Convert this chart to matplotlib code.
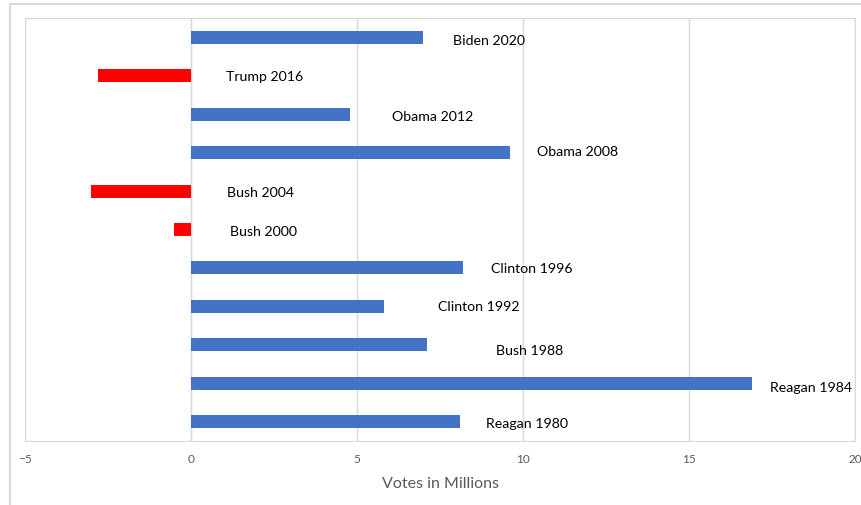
import matplotlib.pyplot as plt
from matplotlib.patches import Rectangle

# data: popular vote margin of the winner, millions
labels = ["Reagan 1980", "Reagan 1984", "Bush 1988", "Clinton 1992", "Clinton 1996",
          "Bush 2000", "Bush 2004", "Obama 2008", "Obama 2012", "Trump 2016", "Biden 2020"]
margins = [8.1, 16.9, 7.1, 5.8, 8.2, -0.5, -3.0, 9.6, 4.8, -2.8, 7.0]

# label placement (offsets in points from the bar end / zero line)
label_dx = [19, 13, 50, 39, 20, 28, 26, 20, 30, 25, 21]
label_dy = [-1, -3, -4, 0, 0, -1, -1, 1, -1, 0, -2]

fig = plt.figure(figsize=(8.61, 5.06), dpi=100)
ax = fig.add_axes([25/861, 1-442/506, 830/861, 423/506])

# outer chart border (runs off the right and bottom edges)
fig.patches.append(Rectangle((10/861, -0.1), 1, 1.1-5/506, transform=fig.transFigure,
                             fill=False, edgecolor="#d9d9d9", linewidth=1.5))

colors = ["#4472c4" if m > 0 else "#ff0000" for m in margins]
y = range(len(labels))
ax.barh(y, margins, height=0.34, color=colors, zorder=3)

for i, (lab, m) in enumerate(zip(labels, margins)):
    x0 = max(m, 0)
    ax.annotate(lab, (x0, i), xytext=(label_dx[i], label_dy[i]), textcoords="offset points",
                ha="left", va="center", fontsize=10.2, family="Lato", color="black")

ax.set_xlim(-5, 20)
ax.set_ylim(-0.5, len(labels) - 0.5)
ax.set_xticks([-5, 0, 5, 10, 15, 20])
ax.set_yticks([])
ax.grid(axis="x", color="#d9d9d9", linewidth=1, zorder=0)
ax.axvline(0, color="#d9d9d9", linewidth=1, zorder=1)
for s in ax.spines.values():
    s.set_color("#d9d9d9")
ax.tick_params(axis="x", length=0, pad=9, labelsize=8.5, labelcolor="#595959")
for t in ax.get_xticklabels():
    t.set_family("Lato")
ax.set_xlabel("Votes in Millions", fontsize=11.5, color="#595959", family="Lato", labelpad=8)

fig.savefig("out.png", dpi=100)
